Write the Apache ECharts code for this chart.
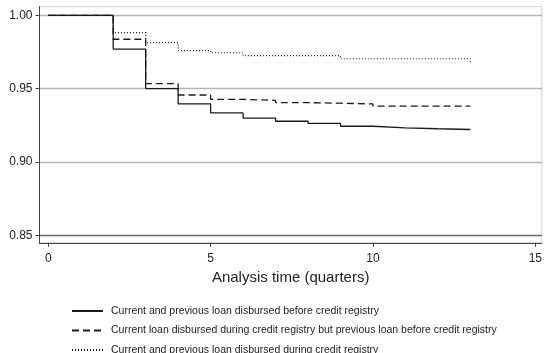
<!DOCTYPE html>
<html><head><meta charset="utf-8">
<script src="https://cdn.jsdelivr.net/npm/echarts@6/dist/echarts.min.js"></script>
<style>html,body{margin:0;padding:0;background:#fff}#c{width:545px;height:353px}</style>
</head><body><div id="c"></div>
<script>
var times = [0, 2, 3, 4, 5, 6, 7, 8, 9, 10, 11, 12, 13];
var seriesNames = [
  'Current and previous loan disbursed before credit registry',
  'Current loan disbursed during credit registry but previous loan before credit registry',
  'Current and previous loan disbursed during credit registry'
];
var beforeBefore = [1.0, 0.977, 0.950, 0.9396, 0.9335, 0.9300, 0.9278, 0.9263, 0.9244, 0.9233, 0.9227, 0.9222, 0.9222];
var duringBefore = [1.0, 0.9837, 0.9534, 0.9457, 0.9427, 0.9421, 0.9405, 0.9401, 0.9396, 0.9381, 0.9381, 0.9381, 0.9381];
var duringDuring = [1.0, 0.9882, 0.9814, 0.9759, 0.9745, 0.9725, 0.9725, 0.9725, 0.9704, 0.9704, 0.9704, 0.9704, 0.9670];
var yTicks = [0.85, 0.90, 0.95, 1.00];
var xTicks = [0, 5, 10, 15];
var xTitle = 'Analysis time (quarters)';

function pairs(v){ return times.map(function(t,i){ return [t, v[i]]; }); }
var FONT = '"Liberation Sans", Arial, sans-serif';
var lineColor = '#1a1a1a';
var chart = echarts.init(document.getElementById('c'), null, {renderer:'canvas'});
chart.setOption({
  animation: false,
  backgroundColor: '#fff',
  textStyle: {fontFamily: FONT},
  grid: {left: 39.5, right: 1, top: 6.7, bottom: 110.2, show: true, borderColor: '#d0d0d0', borderWidth: 1},
  legend: {
    orient: 'vertical', left: 71, top: 305.5, height: 80, padding: 0, itemWidth: 31, itemHeight: 10, itemGap: 8.5,
    data: seriesNames,
    itemStyle: {opacity: 0},
    textStyle: {fontFamily: FONT, fontSize: 10.5, color: '#222', padding: [0,0,0,3]}
  },
  xAxis: {
    type: 'value', min: -0.27, max: 15.2,
    axisLine: {show: true, onZero: false, lineStyle: {color: '#444', width: 1}},
    axisTick: {show: true, length: 4, lineStyle: {color: '#444'}, customValues: xTicks},
    axisLabel: {fontSize: 12, color: '#222', margin: 10, customValues: xTicks, fontFamily: FONT},
    splitLine: {show: false},
    name: xTitle, nameLocation: 'middle', nameGap: 28,
    nameTextStyle: {fontSize: 15, color: '#222', fontFamily: FONT}
  },
  yAxis: {
    type: 'value', min: 0.845, max: 1.00586,
    axisLine: {show: true, onZero: false, lineStyle: {color: '#444', width: 1}},
    axisTick: {show: true, length: 4, lineStyle: {color: '#444'}, customValues: yTicks},
    axisLabel: {fontSize: 12, color: '#222', margin: 7, customValues: yTicks, fontFamily: FONT,
      formatter: function(v){ return v.toFixed(2); }},
    splitLine: {show: true, lineStyle: {color: ['#6a6a6a', '#b4b4b4', '#b4b4b4', '#b4b4b4'], width: 1.4}}
  },
  series: [
    {name: seriesNames[0], type: 'line', step: 'end', symbol: 'none', data: pairs(beforeBefore),
     lineStyle: {color: lineColor, width: 1.3, type: 'solid'}, itemStyle: {color: lineColor}},
    {name: seriesNames[1], type: 'line', step: 'end', symbol: 'none', data: pairs(duringBefore),
     lineStyle: {color: lineColor, width: 1.3, type: [7, 4]}, itemStyle: {color: lineColor}},
    {name: seriesNames[2], type: 'line', step: 'end', symbol: 'none', data: pairs(duringDuring),
     lineStyle: {color: lineColor, width: 1.2, type: [1, 2]}, itemStyle: {color: lineColor}}
  ]
});
</script></body></html>
